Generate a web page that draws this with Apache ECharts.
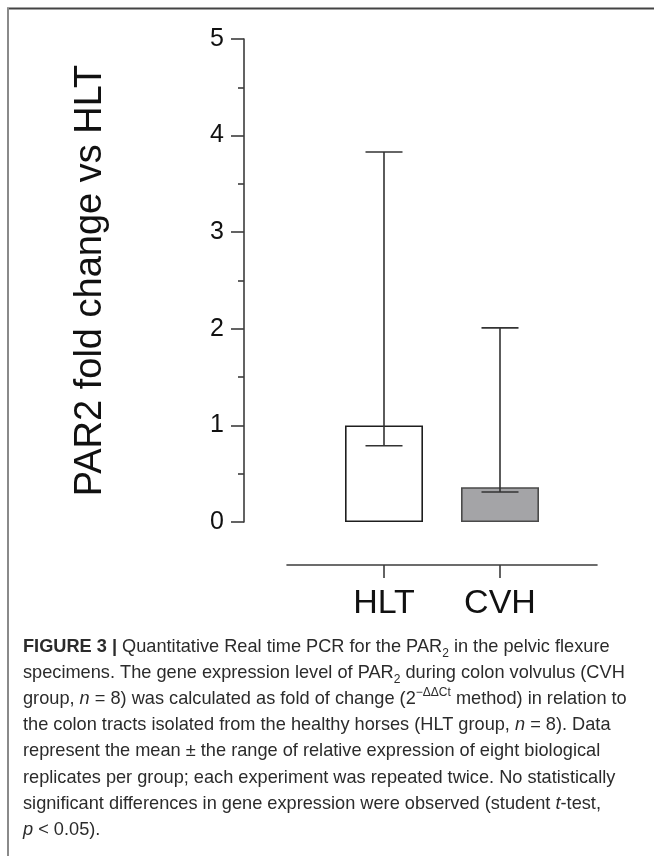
<!DOCTYPE html>
<html><head><meta charset="utf-8">
<script src="https://cdn.jsdelivr.net/npm/echarts@6/dist/echarts.min.js"></script>
<style>html,body{margin:0;padding:0;background:#fff}#c{width:654px;height:856px}</style>
</head><body><div id="c"></div>
<script>
// ---- data ----
const categories = ['HLT', 'CVH'];
const means = [1.0, 0.36];
const lows = [0.79, 0.31];
const highs = [3.83, 2.01];
const yTicks = [0, 1, 2, 3, 4, 5];
const yAxisTitle = 'PAR2 fold change vs HLT';
const captionLines = [
  '{b|FIGURE 3 |} Quantitative Real time PCR for the PAR{sub|2} in the pelvic flexure',
  'specimens. The gene expression level of PAR{sub|2} during colon volvulus (CVH',
  'group, {i|n} = 8) was calculated as fold of change (2{sup|\u2212\u0394\u0394Ct} method) in relation to',
  'the colon tracts isolated from the healthy horses (HLT group, {i|n} = 8). Data',
  'represent the mean \u00b1 the range of relative expression of eight biological',
  'replicates per group; each experiment was repeated twice. No statistically',
  'significant differences in gene expression were observed (student {i|t}-test,',
  '{i|p} < 0.05).'
];

const FONT = "'Liberation Sans', Arial, Helvetica, sans-serif";
const AX = '#3c3c3c';
const chart = echarts.init(document.getElementById('c'), null, {renderer: 'canvas'});

const xPos = categories.map((c, i) => i + 1);
const barStyles = [
  {color: '#ffffff', borderColor: '#1e1e1e', borderWidth: 1.6},
  {color: '#a4a4a7', borderColor: '#4a4a4a', borderWidth: 1.6}
];

const CFS = 18.2;
const capFont = {fontSize: CFS, fontFamily: FONT, fill: '#2b2b2b', lineHeight: 26};
const rich = {
  b: {fontSize: CFS, fontFamily: FONT, fontWeight: 'bold', color: '#1a1a1a', lineHeight: 26},
  i: {fontSize: CFS, fontFamily: FONT, fontStyle: 'italic', color: '#2b2b2b', lineHeight: 26},
  sub: {fontSize: 12, fontFamily: FONT, color: '#2b2b2b', lineHeight: 14, verticalAlign: 'bottom'},
  sup: {fontSize: 12, fontFamily: FONT, color: '#2b2b2b', lineHeight: 14, verticalAlign: 'top'}
};

const graphics = [
  {type: 'line', shape: {x1: 7, y1: 8.5, x2: 654, y2: 8.5}, style: {stroke: '#444', lineWidth: 2}},
  {type: 'line', shape: {x1: 8, y1: 8, x2: 8, y2: 856}, style: {stroke: '#8a8a8a', lineWidth: 2}}
];
captionLines.forEach((t, i) => {
  graphics.push({
    type: 'text', left: 23, top: 634 + i * 26.1,
    style: Object.assign({text: t, rich: rich}, capFont)
  });
});

chart.setOption({
  animation: false,
  backgroundColor: '#fff',
  grid: {left: 287, width: 310, top: 39, height: 483},
  xAxis: {
    type: 'value',
    min: 1 - 97 / 116, max: 2 + 97 / 116,
    position: 'bottom', offset: 43,
    axisLine: {show: true, onZero: false, lineStyle: {color: AX, width: 1.6}},
    axisTick: {show: true, customValues: xPos, length: 13, lineStyle: {color: AX, width: 1.6}},
    axisLabel: {show: true, customValues: xPos, formatter: v => categories[Math.round(v) - 1] || '',
      fontSize: 34, fontFamily: FONT, color: '#111', margin: 22},
    splitLine: {show: false}
  },
  yAxis: {
    type: 'value', min: yTicks[0], max: yTicks[yTicks.length - 1], interval: 1,
    offset: 43,
    name: yAxisTitle, nameLocation: 'middle', nameRotate: 90, nameGap: 134,
    nameTextStyle: {fontSize: 38, fontFamily: FONT, color: '#111'},
    axisLine: {show: true, lineStyle: {color: AX, width: 1.6}},
    axisTick: {show: true, length: 13, lineStyle: {color: AX, width: 1.6}},
    minorTick: {show: true, splitNumber: 2, length: 6, lineStyle: {color: AX, width: 1.6}},
    axisLabel: {fontSize: 25, fontFamily: FONT, color: '#111', margin: 20},
    splitLine: {show: false}, minorSplitLine: {show: false}
  },
  series: [
    {
      type: 'bar', barWidth: 78,
      data: categories.map((c, i) => ({value: [xPos[i], means[i]], itemStyle: barStyles[i]})),
      z: 2
    },
    {
      type: 'custom', z: 3,
      data: categories.map((c, i) => [xPos[i], lows[i], highs[i]]),
      renderItem: function (params, api) {
        const x = api.value(0);
        const pLo = api.coord([x, api.value(1)]);
        const pHi = api.coord([x, api.value(2)]);
        const hw = 18.5;
        const st = {stroke: '#333', lineWidth: 1.6};
        return {type: 'group', children: [
          {type: 'line', shape: {x1: pLo[0], y1: pLo[1], x2: pHi[0], y2: pHi[1]}, style: st},
          {type: 'line', shape: {x1: pHi[0] - hw, y1: pHi[1], x2: pHi[0] + hw, y2: pHi[1]}, style: st},
          {type: 'line', shape: {x1: pLo[0] - hw, y1: pLo[1], x2: pLo[0] + hw, y2: pLo[1]}, style: st}
        ]};
      }
    }
  ],
  graphic: graphics
});
</script></body></html>
